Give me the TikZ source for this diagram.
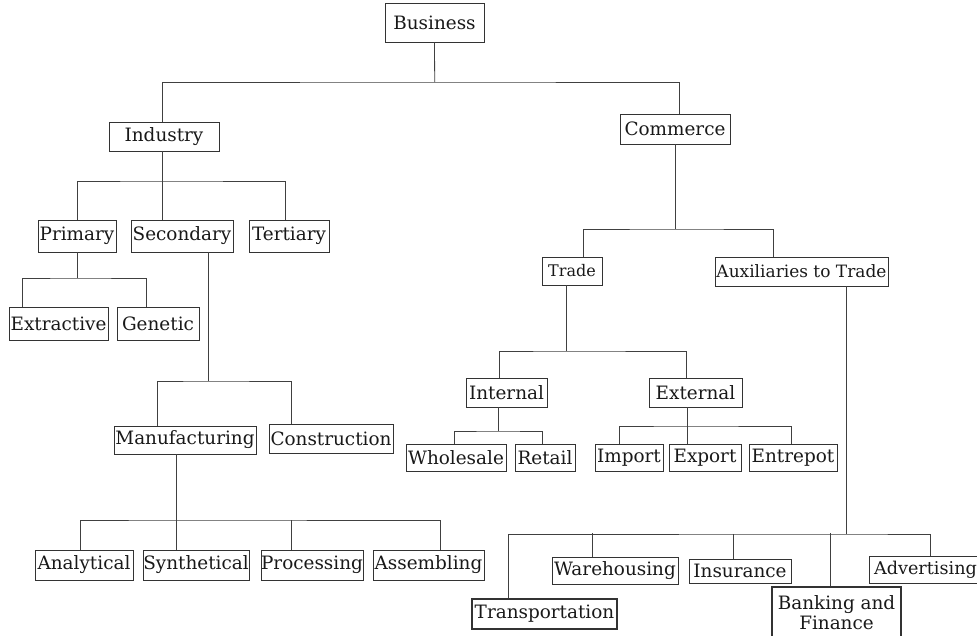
\documentclass[tikz,border=0pt]{standalone}
\usepackage{fontspec}
\setmainfont{DejaVu Serif}
\begin{document}
\begin{tikzpicture}[x=1pt,y=-1pt,
  bx/.style={draw=black!80, line width=0.8pt, inner sep=0pt, font=\fontsize{18.4}{20}\selectfont, text=black!90},
  ln/.style={draw=black!75, line width=0.8pt}]
\useasboundingbox (0,0) rectangle (977,635);
\clip (0,0) rectangle (977,635);
% nodes
\node[bx, minimum width=99pt, minimum height=39pt] (business) at (434.5,22.5) {Business};
\node[bx, minimum width=110pt, minimum height=29pt] (industry) at (164,136.5) {Industry};
\node[bx, minimum width=110pt, minimum height=30pt] (commerce) at (675,129) {Commerce};
\node[bx, minimum width=78pt, minimum height=32pt] (primary) at (77,236) {Primary};
\node[bx, minimum width=102pt, minimum height=32pt] (secondary) at (182,236) {Secondary};
\node[bx, minimum width=80pt, minimum height=32pt] (tertiary) at (289,236) {Tertiary};
\node[bx, minimum width=99pt, minimum height=33pt] (extractive) at (58.5,323.5) {Extractive};
\node[bx, minimum width=82pt, minimum height=33pt] (genetic) at (158,323.5) {Genetic};
\node[bx, minimum width=142pt, minimum height=28pt] (manufacturing) at (185,440) {Manufacturing};
\node[bx, minimum width=124pt, minimum height=29pt] (construction) at (331,438.5) {Construction};
\node[bx, minimum width=98pt, minimum height=30pt] (analytical) at (84,565) {Analytical};
\node[bx, minimum width=106pt, minimum height=30pt] (synthetical) at (196,565) {Synthetical};
\node[bx, minimum width=102pt, minimum height=30pt] (processing) at (312,565) {Processing};
\node[bx, minimum width=111pt, minimum height=30pt] (assembling) at (428.5,565) {Assembling};
\node[bx, minimum width=60pt, minimum height=28pt, font=\fontsize{16}{18}\selectfont] (trade) at (572,271) {Trade};
\node[bx, minimum width=173pt, minimum height=29pt, font=\fontsize{17}{18}\selectfont] (aux) at (801.5,271.5) {Auxiliaries to Trade};
\node[bx, minimum width=81pt, minimum height=29pt] (internal) at (506.5,392.5) {Internal};
\node[bx, minimum width=93pt, minimum height=29pt] (external) at (695.5,392.5) {External};
\node[bx, minimum width=100pt, minimum height=27pt] (wholesale) at (456,457.5) {Wholesale};
\node[bx, minimum width=60pt, minimum height=27pt] (retail) at (545,457.5) {Retail};
\node[bx, minimum width=68pt, minimum height=27pt] (import) at (629,457.5) {Import};
\node[bx, minimum width=72pt, minimum height=27pt] (export) at (705,457.5) {Export};
\node[bx, minimum width=88pt, minimum height=27pt] (entrepot) at (793,457.5) {Entrepot};
\node[bx, minimum width=145pt, minimum height=30pt, line width=1.1pt] (transportation) at (544.5,614) {Transportation};
\node[bx, minimum width=126pt, minimum height=27pt] (warehousing) at (615,570.5) {Warehousing};
\node[bx, minimum width=102pt, minimum height=24pt] (insurance) at (740,571) {Insurance};
\node[bx, minimum width=129pt, minimum height=52pt, line width=1.1pt, align=center] (banking) at (836.5,613) {Banking and\\Finance};
\node[bx, minimum width=113pt, minimum height=27pt, font=\fontsize{17.6}{20}\selectfont] (advertising) at (925.5,569.5) {Advertising};
% connectors
% business
\coordinate (b1) at (434.7,82);
\draw[ln] (business.south) -- (b1);
\draw[ln] ([xshift=-2pt]industry.north) |- (b1) -| ([xshift=4pt]commerce.north);
% industry
\coordinate (b2) at (162,181);
\draw[ln] ([xshift=-2pt]industry.south) -- (b2);
\draw[ln] (primary.north) |- (b2) -| ([xshift=-4pt]tertiary.north);
\draw[ln] (b2) -- ([xshift=-20pt]secondary.north);
% primary
\coordinate (b3) at (77,278);
\draw[ln] (primary.south) -- (b3);
\draw[ln] ([xshift=-36.5pt]extractive.north) |- (b3) -| ([xshift=-12pt]genetic.north);
% secondary
\coordinate (b4) at (208,381);
\draw[ln] ([xshift=26pt]secondary.south) -- (b4);
\draw[ln] ([xshift=-28pt]manufacturing.north) |- (b4) -| ([xshift=-40pt]construction.north);
% manufacturing
\coordinate (b5) at (176,520);
\draw[ln] ([xshift=-9pt]manufacturing.south) -- (b5);
\draw[ln] ([xshift=-4pt]analytical.north) |- (b5) -| ([xshift=11.5pt]assembling.north);
\draw[ln] (b5) -- ([xshift=-20pt]synthetical.north);
\draw[ln] ([xshift=-21pt]processing.north) -- ++(0,-30);
% commerce
\coordinate (b6) at (675,229);
\draw[ln] (commerce.south) -- (b6);
\draw[ln] ([xshift=11pt]trade.north) |- (b6) -| ([xshift=-28.5pt]aux.north);
% trade
\coordinate (b7) at (566,351);
\draw[ln] ([xshift=-6pt]trade.south) -- (b7);
\draw[ln] ([xshift=-7.5pt]internal.north) |- (b7) -| ([xshift=-9.5pt]external.north);
% internal
\coordinate (b8) at (498,431);
\draw[ln] ([xshift=-8.5pt]internal.south) -- (b8);
\draw[ln] ([xshift=-2pt]wholesale.north) |- (b8) -| ([xshift=-3pt]retail.north);
% external
\coordinate (b9) at (687,426);
\draw[ln] ([xshift=-8.5pt]external.south) -- (b9);
\draw[ln] ([xshift=-10pt]import.north) |- (b9) -| ([xshift=-2pt]entrepot.north);
\draw[ln] (b9) -- ([xshift=-18pt]export.north);
% auxiliaries
\coordinate (b10) at (846,534);
\draw[ln] ([xshift=44.5pt]aux.south) -- (b10);
\draw[ln] ([xshift=-36.5pt]transportation.north) |- (b10) -| ([xshift=4.5pt]advertising.north);
\draw[ln] ([xshift=-23pt]warehousing.north) -- ++(0,-23.5);
\draw[ln] ([xshift=-7pt]insurance.north) -- ++(0,-25);
\draw[ln] ([xshift=-6.5pt]banking.north) -- ++(0,-53);
\end{tikzpicture}
\end{document}
